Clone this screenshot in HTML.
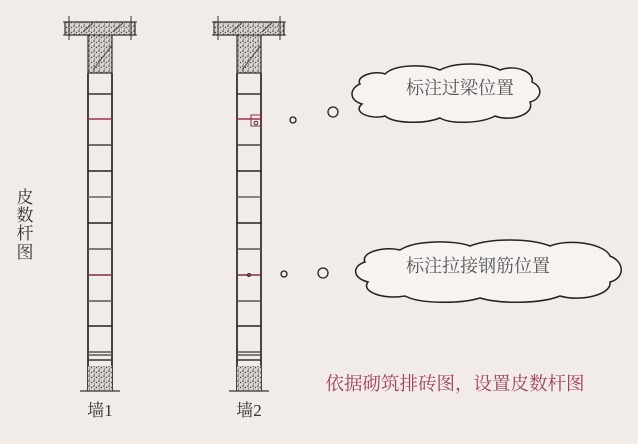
<!DOCTYPE html>
<html><head><meta charset="utf-8"><style>
html,body{margin:0;padding:0;background:#f1ece8;}
svg{display:block;}
text{font-family:"Liberation Serif","Noto Serif CJK SC","Noto Sans CJK SC",serif;}
</style></head><body>
<svg width="638" height="444" viewBox="0 0 638 444" xmlns="http://www.w3.org/2000/svg">
<defs>
<pattern id="dots" width="5" height="5" patternUnits="userSpaceOnUse">
<rect width="5" height="5" fill="#d8d4ce"/>
<circle cx="1" cy="1" r="0.8" fill="#333"/><circle cx="3.5" cy="2.5" r="0.7" fill="#444"/><circle cx="1.5" cy="4" r="0.6" fill="#555"/>
</pattern>
<g id="col">
<path d="M-23,12 H47 V25 H24 V63 H0 V25 H-23 Z" fill="url(#dots)" stroke="#333" stroke-width="1.2"/>
<line x1="-25" y1="12" x2="49" y2="12" stroke="#333"/>
<line x1="-25" y1="25" x2="49" y2="25" stroke="#333"/>
<line x1="-19" y1="6" x2="-19" y2="30" stroke="#333"/>
<line x1="43" y1="6" x2="43" y2="30" stroke="#333"/>
<line x1="5" y1="60" x2="24" y2="35" stroke="#444"/>
<line x1="-5" y1="22" x2="5" y2="13" stroke="#444"/>
<line x1="25" y1="22" x2="35" y2="13" stroke="#444"/>
<line x1="0" y1="63" x2="0" y2="381" stroke="#444" stroke-width="2"/>
<line x1="24" y1="63" x2="24" y2="381" stroke="#444" stroke-width="2"/>
<g stroke-width="1.6">
<line x1="0" x2="24" y1="84" y2="84" stroke="#333"/>
<line x1="0" x2="24" y1="135" y2="135" stroke="#444"/>
<line x1="0" x2="24" y1="161" y2="161" stroke="#222"/>
<line x1="0" x2="24" y1="187" y2="187" stroke="#666"/>
<line x1="0" x2="24" y1="213" y2="213" stroke="#222"/>
<line x1="0" x2="24" y1="239" y2="239" stroke="#555"/>
<line x1="0" x2="24" y1="291" y2="291" stroke="#555"/>
<line x1="0" x2="24" y1="316" y2="316" stroke="#222"/>
<line x1="0" x2="24" y1="342" y2="342" stroke="#555"/>
<line x1="0" x2="24" y1="345" y2="345" stroke="#555"/>
<line x1="0" x2="24" y1="350" y2="350" stroke="#333"/>
</g>
<line x1="0" x2="24" y1="109" y2="109" stroke="#a0304a" stroke-width="1.6"/>
<line x1="0" x2="24" y1="265" y2="265" stroke="#7a3040" stroke-width="1.6"/>
<rect x="0" y="356" width="24" height="25" fill="url(#dots)"/>
<line x1="-8" x2="32" y1="381" y2="381" stroke="#333" stroke-width="1.2"/>
</g>
</defs>
<use href="#col" x="88" y="10"/>
<use href="#col" x="237" y="10"/>
<rect x="251" y="115" width="10" height="11" fill="none" stroke="#8a3040" stroke-width="1"/>
<circle cx="256" cy="123" r="1.8" fill="none" stroke="#333"/>
<circle cx="249" cy="275" r="1.5" fill="none" stroke="#333"/>
<text x="100" y="416" font-size="17" text-anchor="middle" fill="#333">墙1</text>
<text x="249" y="416" font-size="17" text-anchor="middle" fill="#333">墙2</text>
<g font-size="17" fill="#333" text-anchor="middle">
<text x="25" y="203">皮</text><text x="25" y="221">数</text><text x="25" y="239">杆</text><text x="25" y="258">图</text>
</g>
<circle cx="293" cy="120" r="3" fill="none" stroke="#222" stroke-width="1.3"/>
<circle cx="333" cy="112" r="5" fill="none" stroke="#222" stroke-width="1.3"/>
<circle cx="284" cy="274" r="3" fill="none" stroke="#222" stroke-width="1.3"/>
<circle cx="323" cy="273" r="5" fill="none" stroke="#222" stroke-width="1.3"/>
<path d="M360,84 C355,76 375,70 385,74 C395,64 425,64 440,70 C455,62 485,62 500,70 C515,64 535,72 532,82 C545,88 540,100 530,102 C535,115 510,122 495,116 C480,124 450,124 440,118 C425,124 395,124 385,116 C370,120 352,112 362,104 C348,100 350,88 360,84 Z" fill="#f6f3f0" stroke="#222" stroke-width="1.5"/>
<text x="460" y="94" font-size="18" text-anchor="middle" fill="#555" font-family="Liberation Sans,Noto Sans CJK SC,sans-serif">标注过梁位置</text>
<path d="M365,262 C360,252 385,246 400,250 C415,240 455,240 470,246 C490,238 530,238 550,246 C570,238 605,244 610,256 C625,262 625,278 610,282 C612,295 580,302 560,296 C540,304 500,304 480,298 C460,304 420,304 405,296 C385,300 360,292 368,282 C352,278 352,266 365,262 Z" fill="#f6f3f0" stroke="#222" stroke-width="1.5"/>
<text x="478" y="272" font-size="18" text-anchor="middle" fill="#555" font-family="Liberation Sans,Noto Sans CJK SC,sans-serif">标注拉接钢筋位置</text>
<text x="455" y="390" font-size="18.5" text-anchor="middle" fill="#a2405a" font-family="Liberation Sans,Noto Sans CJK SC,sans-serif">依据砌筑排砖图，设置皮数杆图</text>
</svg>
</body></html>
